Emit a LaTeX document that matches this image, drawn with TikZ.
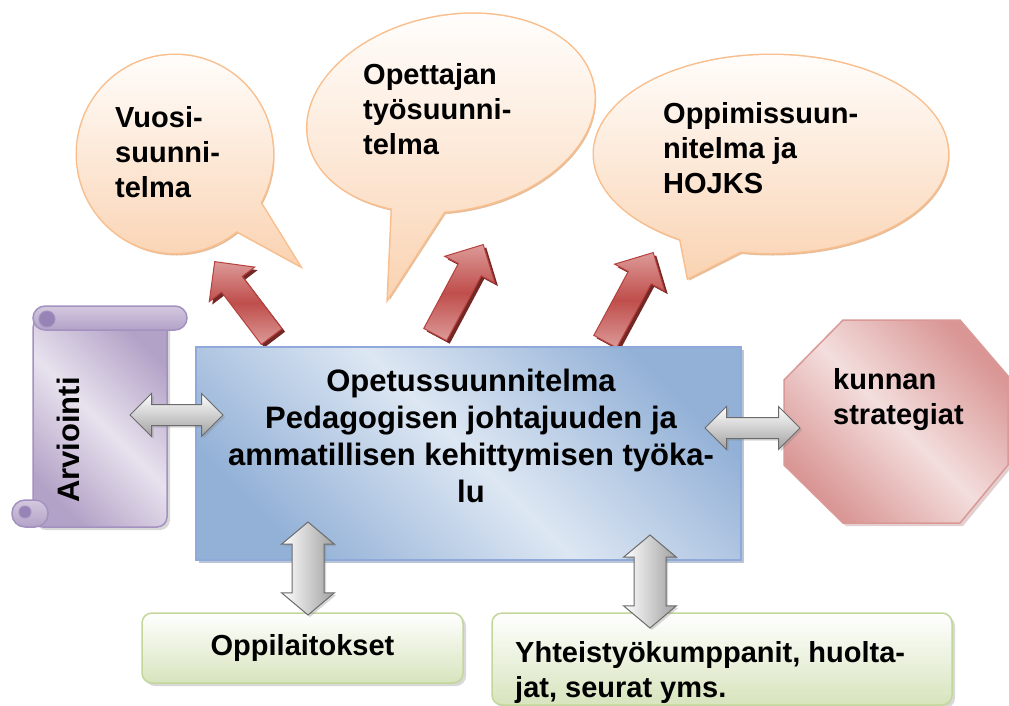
\documentclass[tikz,border=0pt]{standalone}
\usepackage{fontspec}
\setmainfont{Liberation Sans}
\usetikzlibrary{calc,shapes.arrows,shadows}

\definecolor{bubbleline}{HTML}{F9BE8C}
\definecolor{bubblelight}{HTML}{FFFDFB}
\definecolor{bubbledark}{HTML}{FAD3B2}
\definecolor{bubbleshade}{HTML}{DDAF88}
\definecolor{redlight}{HTML}{DC9A98}
\definecolor{reddark}{HTML}{BF4E4B}
\definecolor{redline}{HTML}{B5403D}
\definecolor{redshade}{HTML}{742826}
\definecolor{grayline}{HTML}{6B6B6B}
\definecolor{graydark}{HTML}{A0A0A0}
\definecolor{bluelight}{HTML}{DDE7F3}
\definecolor{bluedark}{HTML}{93B1D7}
\definecolor{blueline}{HTML}{8FAADA}
\definecolor{octalight}{HTML}{F3DEDD}
\definecolor{octadark}{HTML}{D99694}
\definecolor{octaline}{HTML}{DA9997}
\definecolor{greenline}{HTML}{C3D69B}
\definecolor{greendark}{HTML}{D7E4BD}
\definecolor{purplelight}{HTML}{E8E2EE}
\definecolor{purpledark}{HTML}{B3A2C7}
\definecolor{purpleline}{HTML}{A391C0}
\definecolor{purplecurl}{HTML}{9783B5}

\tikzset{
  txt/.style={font=\fontsize{29}{35}\selectfont\bfseries, inner sep=0pt, align=left},
  bigtxt/.style={font=\fontsize{31}{37}\selectfont\bfseries, inner sep=0pt, align=center},
  speech/.style={drop shadow={shadow xshift=1.5pt, shadow yshift=-2.5pt, fill=bubbleshade, opacity=.8},
    preaction={draw=bubbleline, line width=3pt}, top color=bubblelight, bottom color=bubbledark},
  redarr/.style={single arrow, draw=redline, line width=1pt, minimum width=56pt, inner xsep=0pt,
    inner ysep=12.5pt, single arrow head extend=15.5pt, anchor=tail,
    top color=redlight, bottom color=redlight, middle color=reddark,
    drop shadow={shadow xshift=3pt, shadow yshift=-3pt, fill=redshade, opacity=1}},
  twoway/.style={double arrow, draw=grayline, line width=1pt, inner xsep=0pt,
    drop shadow={shadow xshift=2pt, shadow yshift=-2pt, opacity=.3}},
  hway/.style={twoway, top color=white, bottom color=graydark,
    minimum width=42pt, inner ysep=10pt, double arrow head extend=11pt},
  vway/.style={twoway, left color=white, right color=graydark,
    minimum width=52pt, inner ysep=15.5pt, double arrow head extend=10.5pt, double arrow tip angle=100},
  bluebox/.style={draw=blueline, line width=1.5pt, top color=bluedark, bottom color=bluedark,
    middle color=bluelight, shading angle=-45,
    drop shadow={shadow xshift=3pt, shadow yshift=-3pt, fill=bluedark!80!black, opacity=.5}},
  octa/.style={draw=octaline, line width=1.5pt, top color=octadark, bottom color=octadark,
    middle color=octalight, shading angle=-45,
    drop shadow={shadow xshift=3pt, shadow yshift=-3pt, fill=octadark!80!black, opacity=.35}},
  greenbox/.style={draw=greenline, line width=1.5pt, rounded corners=10pt, top color=white,
    bottom color=greendark, drop shadow={shadow xshift=3pt, shadow yshift=-3pt, opacity=.3}},
  scrollsheet/.style={draw=purpleline, line width=1.5pt, top color=purpledark, bottom color=purpledark,
    middle color=purplelight, shading angle=-45,
    drop shadow={shadow xshift=3pt, shadow yshift=-3pt, opacity=.3}},
  scrollroll/.style={draw=purpleline, line width=1.5pt, top color=purplelight!60!purpledark,
    bottom color=purpledark},
  scrollcurl/.style={draw=purpleline, line width=1pt, fill=purplecurl}
}

\newcommand\redarrow[3]{\path let \p1=($(#3)-(#2)$), \n1={atan2(\y1,\x1)}, \n2={veclen(\x1,\y1)} in
  node[redarr, rotate=\n1, minimum height=\n2] (#1) at (#2) {};}
\newcommand\grayarrow[4]{\path let \p1=($(#4)-(#3)$), \n1={atan2(\y1,\x1)}, \n2={veclen(\x1,\y1)} in
  node[#1, rotate=\n1, minimum height=\n2] (#2) at ($(#3)!.5!(#4)$) {};}

\begin{document}
\begin{tikzpicture}[x=1pt, y=-1pt]
  \useasboundingbox[fill=white] (0,0) rectangle (1009,705);

  %%%%% speech bubbles %%%%%
  \shade[speech] (175,154) ellipse [x radius=98, y radius=99] (252,189) -- (299,265) -- (222,223) -- cycle;
  \shade[speech] (462,184) -- (388,298) -- (393,188) -- cycle (451,113) ellipse [x radius=145, y radius=97, rotate=11];
  \shade[speech] (765,239) -- (688,278) -- (677,222) -- cycle (771,154) ellipse [x radius=177, y radius=99];

  \node[txt, anchor=north west] (vuosi) at (115,106) {Vuosi-\\suunni-\\telma};
  \node[txt, anchor=north west] (opettaja) at (363,63) {Opettajan\\työsuunni-\\telma};
  \node[txt, anchor=north west] (oppimis) at (663,102) {Oppimissuun-\\nitelma ja\\HOJKS};

  %%%%% red arrows %%%%%
  \coordinate (rA0) at (272,337); \coordinate (rA1) at (215,262);
  \coordinate (rB0) at (435,335); \coordinate (rB1) at (483,245);
  \coordinate (rC0) at (605,342); \coordinate (rC1) at (653,253);
  \redarrow{upA}{rA0}{rA1}
  \redarrow{upB}{rB0}{rB1}
  \redarrow{upC}{rC0}{rC1}

  %%%%% scroll %%%%%
  \path[scrollsheet, rounded corners=10pt] (33,318) rectangle (167,527);
  \path[scrollroll, rounded corners=12pt] (33,306) rectangle (187,330);
  \path[scrollcurl] (47,319) circle (8);
  \path[scrollroll, rounded corners=13pt] (12,500) rectangle (48,527);
  \path[scrollcurl] (25,512) circle (6);
  \node[bigtxt, rotate=90] (arviointi) at (68,440) {Arviointi};

  %%%%% main box %%%%%
  \node[bluebox, minimum width=545pt, minimum height=213pt] (ops) at (468.5,453.5) {};
  \node[bigtxt, anchor=north] (opsteksti) at (471,369)
    {Opetussuunnitelma\\Pedagogisen johtajuuden ja\\ammatillisen kehittymisen työka-\\lu};

  %%%%% octagon %%%%%
  \path[octa] (784,380) -- (843,320) -- (960,320) -- (1008,376) -- (1008,465) -- (960,523)
    -- (843,523) -- (784,465) -- cycle;
  \node[txt, anchor=north west] (kunta) at (833,368) {kunnan\\strategiat};

  %%%%% green boxes %%%%%
  \node[greenbox, minimum width=321pt, minimum height=70pt, txt] (oppilaitokset) at (302.5,648) {Oppilaitokset};
  \node[greenbox, minimum width=460pt, minimum height=92pt] (yhteis) at (722,659) {};
  \node[txt, anchor=north west] (yhteisteksti) at (515,641) {Yhteistyökumppanit, huolta-\\jat, seurat yms.};

  %%%%% gray arrows %%%%%
  \coordinate (arvL) at (130,415); \coordinate (arvR) at (223,415);
  \coordinate (kuL) at (705,428); \coordinate (kuR) at (800,428);
  \coordinate (oppT) at (308,522); \coordinate (oppB) at (308,615);
  \coordinate (yhtT) at (650,535); \coordinate (yhtB) at (650,628);
  \grayarrow{hway}{toArv}{arvL}{arvR}
  \grayarrow{hway}{toKunta}{kuL}{kuR}
  \grayarrow{vway}{toOpp}{oppB}{oppT}
  \grayarrow{vway}{toYht}{yhtB}{yhtT}
\end{tikzpicture}
\end{document}
